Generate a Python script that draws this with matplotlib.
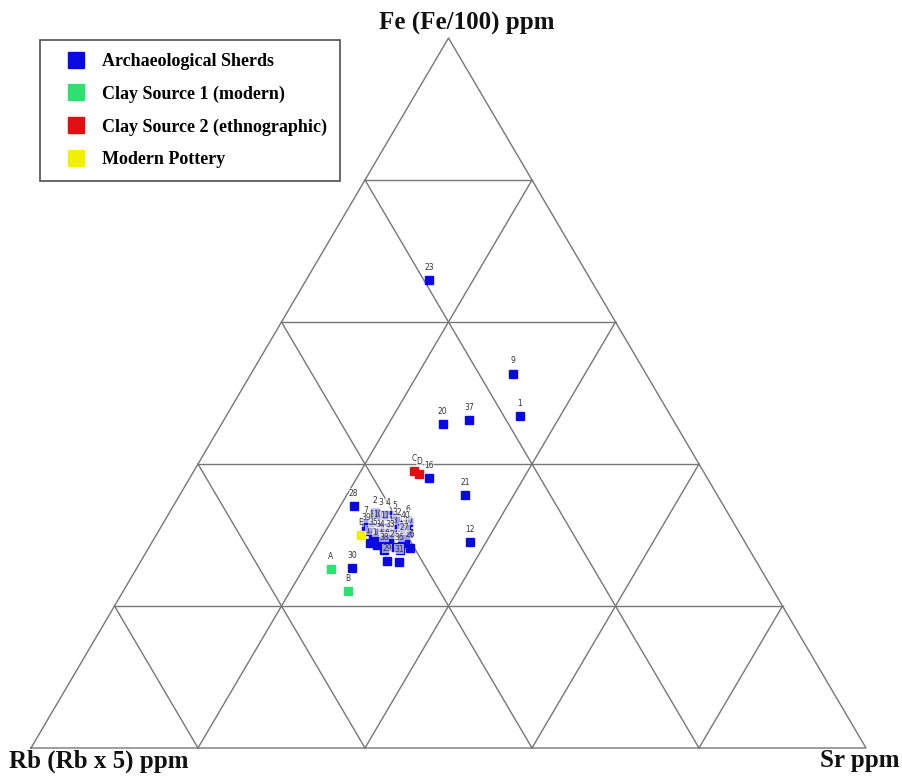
import numpy as np
import matplotlib.pyplot as plt

# ternary compositions in percent: Rb (x5), Sr, Fe (/100)
sherd_labels = ['23', '9', '1', '20', '37', '16', '21', '12', '28', '30',
                '2', '3', '4', '5', '6', '7', '8', '10', '11', '13',
                '14', '15', '17', '18', '19', '22', '24', '25', '26', '27',
                '29', '31', '32', '33', '34', '35', '36', '38', '39', '40']
sherd_rb = [19.4, 15.9, 18.1, 27.9, 24.4, 33.3, 30.2, 32.9, 44.3, 48.9,
            42.3, 41.7, 40.9, 40.2, 38.9, 44.0, 43.6, 42.9, 42.1, 41.5,
            40.2, 39.7, 45.0, 44.3, 43.4, 42.7, 42.3, 41.1, 40.5, 40.6,
            44.2, 42.8, 40.4, 42.1, 43.3, 44.1, 41.9, 43.8, 44.6, 39.6]
sherd_sr = [14.7, 31.4, 35.2, 26.5, 29.4, 28.6, 34.2, 38.1, 21.6, 25.8,
            24.6, 25.5, 26.4, 27.4, 29.2, 24.3, 25.3, 26.0, 26.9, 28.2,
            29.3, 30.0, 26.2, 27.1, 27.7, 28.4, 29.4, 30.0, 31.3, 30.1,
            29.5, 31.0, 28.2, 28.1, 26.9, 26.0, 30.2, 28.3, 24.8, 29.4]
sherd_fe = [65.9, 52.7, 46.7, 45.6, 46.2, 38.0, 35.6, 29.0, 34.1, 25.4,
            33.1, 32.8, 32.8, 32.4, 31.8, 31.7, 31.1, 31.1, 31.0, 30.3,
            30.4, 30.3, 28.9, 28.6, 28.9, 28.9, 28.3, 28.9, 28.2, 29.3,
            26.3, 26.2, 31.4, 29.7, 29.7, 29.9, 27.9, 27.9, 30.6, 31.0]

clay1_labels = ['A', 'B']
clay1_rb = [51.5, 51.0]
clay1_sr = [23.3, 26.9]
clay1_fe = [25.2, 22.1]

clay2_labels = ['C', 'D']
clay2_rb = [34.6, 34.2]
clay2_sr = [26.4, 27.2]
clay2_fe = [39.0, 38.6]

pottery_labels = ['E']
pottery_rb = [45.5]
pottery_sr = [24.5]
pottery_fe = [30.0]


def tern(rb, sr, fe):
    rb, sr, fe = np.asarray(rb, float), np.asarray(sr, float), np.asarray(fe, float)
    tot = rb + sr + fe
    fe = fe / tot
    sr = sr / tot
    return sr + fe / 2, fe


fig = plt.figure(figsize=(9.02, 7.76), dpi=100)
ax = fig.add_axes([0, 0, 1, 1])
ax.set_xlim(-31 / 835, 871 / 835)
ax.set_ylim(-28 / 710, 748 / 710)
ax.axis('off')

gc = '#767676'
# outline
ax.plot([0, 1, 0.5, 0], [0, 0, 1, 0], color=gc, lw=1.0)
# grid lines every 20%
for f in [0.2, 0.4, 0.6, 0.8]:
    # constant Fe
    x0, y0 = tern(1 - f, 0, f)
    x1, y1 = tern(0, 1 - f, f)
    ax.plot([x0, x1], [y0, y1], color=gc, lw=1.0)
    # constant Sr
    x0, y0 = tern(1 - f, f, 0)
    x1, y1 = tern(0, f, 1 - f)
    ax.plot([x0, x1], [y0, y1], color=gc, lw=1.0)
    # constant Rb
    x0, y0 = tern(f, 1 - f, 0)
    x1, y1 = tern(f, 0, 1 - f)
    ax.plot([x0, x1], [y0, y1], color=gc, lw=1.0)

groups = [
    (sherd_rb, sherd_sr, sherd_fe, sherd_labels, '#0a0ae0', 'Archaeological Sherds'),
    (clay1_rb, clay1_sr, clay1_fe, clay1_labels, '#2ee070', 'Clay Source 1 (modern)'),
    (clay2_rb, clay2_sr, clay2_fe, clay2_labels, '#e01010', 'Clay Source 2 (ethnographic)'),
    (pottery_rb, pottery_sr, pottery_fe, pottery_labels, '#f2f000', 'Modern Pottery'),
]

handles = []
for rb, sr, fe, labs, col, name in groups:
    x, y = tern(rb, sr, fe)
    h, = ax.plot(x, y, 's', color=col, ms=6, mec=col, ls='none', label=name, zorder=3)
    handles.append(h)
    for xi, yi, lab in zip(x, y, labs):
        ax.annotate(lab, (xi, yi), xytext=(0, 6), textcoords='offset points',
                    ha='center', va='bottom', fontsize=5.5, color='#333333',
                    family='DejaVu Sans', zorder=4,
                    bbox=dict(boxstyle='square,pad=0.05', fc='white', ec='none', alpha=0.6))

leg = ax.legend(handles=handles, loc='upper left', bbox_to_anchor=(40 / 902, 1 - 40 / 776),
                frameon=True, fancybox=False, edgecolor='#222222', markerscale=2.0,
                prop={'family': 'Liberation Serif', 'weight': 'bold', 'size': 13},
                handletextpad=0.1, labelspacing=0.86, borderpad=0.72, handlelength=2.6,
                borderaxespad=0)
leg.get_frame().set_linewidth(1.2)

tfont = dict(family='Liberation Serif', weight='bold', size=18, color='#111111')
fig.text(467 / 902, 1 - 23 / 776, 'Fe (Fe/100) ppm', ha='center', va='center', **tfont)
fig.text(9 / 902, 1 - 761 / 776, 'Rb (Rb x 5) ppm', ha='left', va='center', **tfont)
fig.text(900 / 902, 1 - 761 / 776, 'Sr ppm', ha='right', va='center', **tfont)

fig.savefig('out.png', dpi=100, facecolor='white')
